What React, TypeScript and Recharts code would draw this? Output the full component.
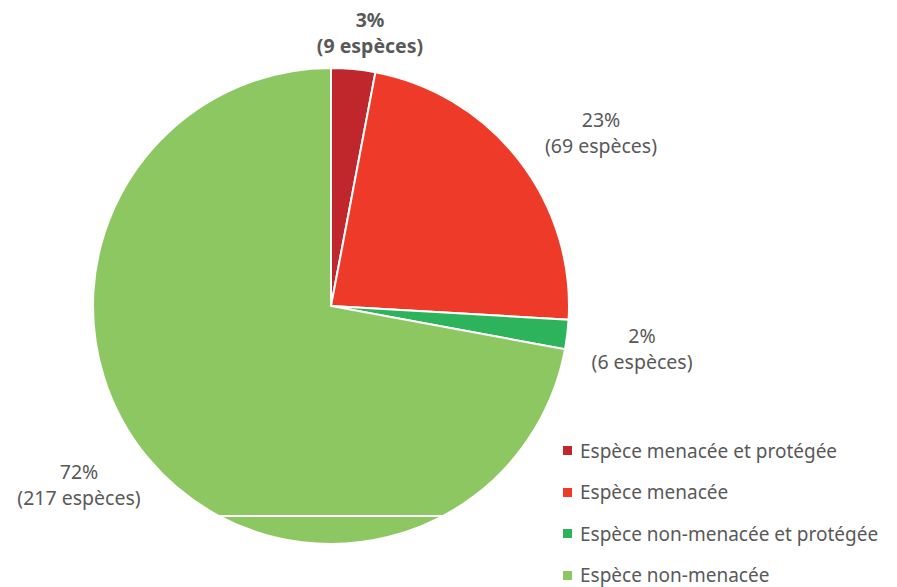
import React from "react";
import { Legend, Pie, PieChart, Cell } from "recharts";

const categories = [
  "Espèce menacée et protégée",
  "Espèce menacée",
  "Espèce non-menacée et protégée",
  "Espèce non-menacée",
];
const speciesCounts = [9, 69, 6, 217];
const percentLabels = ["3%", "23%", "2%", "72%"];
const colors = ["#C0272D", "#EE3A28", "#2DB35B", "#8DC762"];

const data = categories.map((name, i) => ({
  name,
  value: speciesCounts[i],
  pct: percentLabels[i],
}));

// label placement relative to the pie centre
const labelOffsets = [
  [39, -286],
  [270, -186],
  [311, 30],
  [-252, 166],
];

const FONT = "'Noto Sans', sans-serif";
const GREY = "#595959";

const renderLabel = (props: any) => {
  const { cx, cy, index } = props;
  const [dx, dy] = labelOffsets[index];
  const bold = index === 0;
  const d = data[index];
  return (
    <text
      x={cx + dx}
      y={cy + dy}
      textAnchor="middle"
      fill={GREY}
      fontFamily={FONT}
      fontSize={19.5}
      fontWeight={bold ? 700 : 400}
    >
      <tspan x={cx + dx} dy="0.35em">{d.pct}</tspan>
      <tspan x={cx + dx} dy={26}>({d.value} espèces)</tspan>
    </text>
  );
};

const renderLegend = () => (
  <div style={{ fontFamily: FONT, fontSize: 19, color: GREY }}>
    {data.map((d, i) => (
      <div key={d.name} style={{ display: "flex", alignItems: "center", height: 41.5 }}>
        <span
          style={{ width: 9, height: 9, background: colors[i], marginRight: 8, display: "inline-block" }}
        />
        <span style={{ lineHeight: "22px" }}>{d.name}</span>
      </div>
    ))}
  </div>
);

export default function App() {
  return (
    <div style={{ position: "absolute", left: 0, top: 0, width: 897, height: 587, background: "#fff", overflow: "hidden" }}>
      <PieChart width={897} height={587}>
        <Pie
          data={data}
          dataKey="value"
          nameKey="name"
          cx={326}
          cy={301}
          outerRadius={238}
          startAngle={90}
          endAngle={-270}
          stroke="#fff"
          strokeWidth={2}
          label={renderLabel}
          labelLine={false}
          isAnimationActive={false}
        >
          {data.map((d, i) => (
            <Cell key={d.name} fill={colors[i]} />
          ))}
        </Pie>
        <Legend
          layout="vertical"
          content={renderLegend}
          wrapperStyle={{ left: 563, top: 430, width: 334 }}
        />
      </PieChart>
      <div style={{ position: "absolute", left: 215, top: 515, width: 235, height: 2, background: "#fff" }} />
    </div>
  );
}
